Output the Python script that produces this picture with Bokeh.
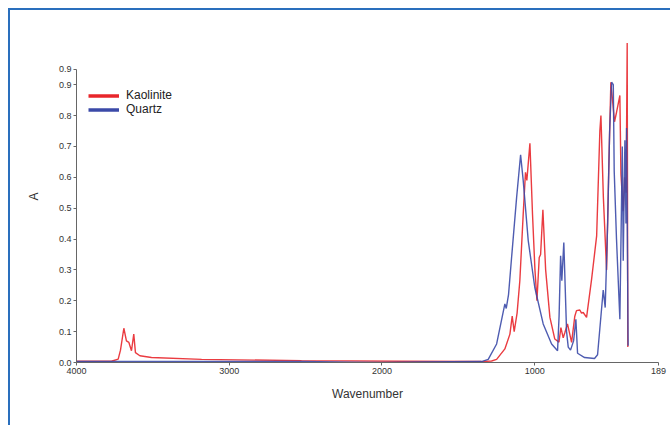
from bokeh.plotting import figure
from bokeh.models import Range1d, FixedTicker, Legend, LegendItem
from bokeh.embed import file_html
from bokeh.resources import INLINE

# Kaolinite spectrum (wavenumber, absorbance)
kaol_wn = [4000, 3771, 3727, 3712, 3690, 3673, 3657, 3640, 3625, 3614, 3585, 3509, 3181, 2527,
           1872, 1348, 1282, 1249, 1195, 1162, 1147, 1134, 1115, 1097, 1075, 1060, 1051, 1031,
           1014, 998, 985, 970, 961, 946, 928, 900, 868, 841, 828, 813, 802, 785, 758, 737, 726,
           704, 693, 682, 660, 627, 594, 573, 566, 550, 529, 516, 501, 490, 477, 464, 442, 435,
           420, 411, 401, 394, 390]
kaol_a = [0.004, 0.004, 0.011, 0.04, 0.111, 0.07, 0.065, 0.038, 0.092, 0.032, 0.022, 0.016, 0.010, 0.006,
          0.004, 0.003, 0.005, 0.01, 0.044, 0.092, 0.15, 0.10, 0.16, 0.265, 0.48, 0.616, 0.59, 0.71,
          0.48, 0.30, 0.20, 0.34, 0.35, 0.495, 0.30, 0.146, 0.076, 0.066, 0.113, 0.08, 0.097, 0.125, 0.065, 0.15, 0.168,
          0.17, 0.16, 0.162, 0.146, 0.27, 0.41, 0.75, 0.80, 0.535, 0.30, 0.60, 0.908, 0.85, 0.78, 0.81, 0.865, 0.61,
          0.49, 0.60, 0.55, 1.035, 0.05]

# Quartz spectrum
quartz_wn = [4000, 2527, 2199, 2002, 1741, 1348, 1304, 1249, 1195, 1186, 1171, 1151, 1118, 1092,
             1075, 1042, 999, 944, 889, 850, 840, 830, 822, 809, 791, 780, 765, 745, 730, 719, 673,
             608, 588, 573, 551, 538, 522, 509, 496, 485, 479, 464, 442, 426, 420, 409, 402, 398, 388]
quartz_a = [0.003, 0.003, 0.001, 0.0, 0.002, 0.003, 0.01, 0.06, 0.19, 0.175, 0.22, 0.34, 0.535, 0.673,
            0.59, 0.395, 0.243, 0.125, 0.06, 0.038, 0.15, 0.346, 0.265, 0.389, 0.10, 0.05, 0.04, 0.07, 0.14, 0.03, 0.016,
            0.013, 0.025, 0.11, 0.235, 0.178, 0.45, 0.75, 0.908, 0.90, 0.62, 0.40, 0.14, 0.70, 0.33, 0.72, 0.45, 0.76, 0.054]

x_ticks = [4000, 3000, 2000, 1000, 189]
y_ticks = [0.0, 0.1, 0.2, 0.3, 0.4, 0.5, 0.6, 0.7, 0.8, 0.9, 0.95]
y_tick_labels = ["0.0", "0.1", "0.2", "0.3", "0.4", "0.5", "0.6", "0.7", "0.8", "0.9", "0.9"]
series_names = ["Kaolinite", "Quartz"]

FONT = "Liberation Sans"
RED = "#e8262b"
BLUE = "#3b4aa8"

p = figure(width=662, height=417, output_backend="svg", toolbar_location=None,
           x_range=Range1d(4000, 189), y_range=Range1d(0, 1.0756),
           min_border_left=66, min_border_right=14, min_border_top=20, min_border_bottom=65)
p.styles = {"border-top": "2px solid #2a6fbd", "border-left": "2px solid #2a6fbd",
            "margin-left": "8px", "margin-top": "8px"}
p.outline_line_color = None
p.xgrid.visible = False
p.ygrid.visible = False

p.line(kaol_wn, kaol_a, line_color=RED, line_width=1.4, line_alpha=0.9)
p.line(quartz_wn, quartz_a, line_color=BLUE, line_width=1.4, line_alpha=0.9)

# legend proxies with thicker strokes (one point, no visible segment)
nan = float("nan")
l1 = p.line([kaol_wn[0]], [nan], line_color=RED, line_width=3.5)
l2 = p.line([quartz_wn[0]], [nan], line_color=BLUE, line_width=3.5)

for ax in (p.xaxis[0], p.yaxis[0]):
    ax.axis_line_color = "#666666"
    ax.major_tick_line_color = "#666666"
    ax.minor_tick_line_color = None
    ax.major_tick_in = 0
    ax.major_tick_out = 3
    ax.major_label_text_font = FONT
    ax.major_label_text_font_size = "9px"
    ax.major_label_text_color = "#333333"
    ax.axis_label_text_font = FONT
    ax.axis_label_text_font_size = "12px"
    ax.axis_label_text_font_style = "normal"
    ax.axis_label_text_color = "#333333"

p.xaxis.ticker = FixedTicker(ticks=x_ticks)
p.xaxis.axis_label = "Wavenumber"
p.xaxis.major_label_standoff = 2
p.xaxis.axis_label_standoff = 10

p.yaxis.ticker = FixedTicker(ticks=y_ticks)
p.yaxis.major_label_overrides = {t: l for t, l in zip(y_ticks, y_tick_labels)}
p.yaxis.bounds = (0, 0.95)
p.yaxis.axis_label = "A"
p.yaxis.major_label_standoff = 2
p.yaxis.axis_label_standoff = 15

legend = Legend(items=[LegendItem(label=series_names[0], renderers=[l1]),
                       LegendItem(label=series_names[1], renderers=[l2])],
                location=(12, 246), padding=0, spacing=0, margin=0,
                glyph_width=31, glyph_height=13, label_height=13, label_standoff=7,
                label_text_font=FONT, label_text_font_size="12px", label_text_color="#222222",
                border_line_alpha=0, background_fill_alpha=0)
p.add_layout(legend)

open("out.html", "w").write(file_html(p, INLINE))
